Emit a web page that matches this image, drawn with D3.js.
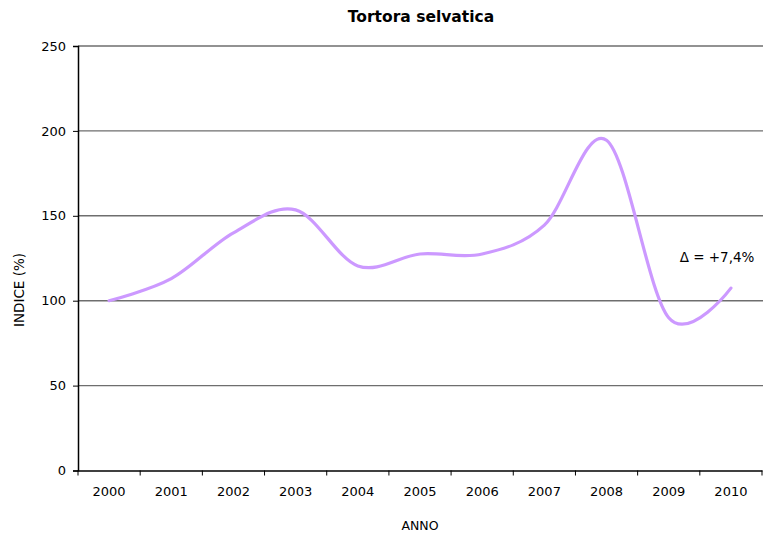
<!DOCTYPE html>
<html><head><meta charset="utf-8">
<script src="https://cdn.jsdelivr.net/npm/d3@7"></script>
<style>body{margin:0;background:#fff}svg{display:block;font-family:"DejaVu Sans",Verdana,sans-serif}</style>
</head><body>
<svg id="c" width="763" height="537"></svg>
<script>
const years = ["2000","2001","2002","2003","2004","2005","2006","2007","2008","2009","2010"];
const indice = [100, 113, 140, 153.5, 120.5, 127.5, 127.5, 144.5, 194.5, 90, 107.4];
const yTicks = [0, 50, 100, 150, 200, 250];
const title = "Tortora selvatica";
const xTitle = "ANNO";
const yTitle = "INDICE (%)";
const note = "Δ = +7,4%";

const svg = d3.select("#c");
const L = 78, R = 762, T = 46, B = 470.5;
const x = d3.scaleBand().domain(years).range([L, R]);
const y = d3.scaleLinear().domain([0, 250]).range([B, T]);

// gridlines
svg.append("g").selectAll("line").data(yTicks.filter(d => d > 0)).join("line")
  .attr("x1", L).attr("x2", 763).attr("y1", d => y(d)).attr("y2", d => y(d))
  .attr("stroke", "#6e6e6e").attr("stroke-width", 1.4);

// y axis
const ya = svg.append("g").attr("transform", `translate(${L},0)`)
  .call(d3.axisLeft(y).tickValues(yTicks).tickSize(5).tickPadding(7));
ya.select(".domain").attr("stroke", "#000").attr("stroke-width", 1.5);
ya.selectAll(".tick line").attr("stroke", "#000");
ya.selectAll("text").attr("font-size", 13).attr("fill", "#000").attr("font-family", "DejaVu Sans");

// x axis
const xa = svg.append("g").attr("transform", `translate(0,${B})`)
  .call(d3.axisBottom(x).tickSize(0).tickPadding(16));
xa.select(".domain").attr("stroke", "#000").attr("stroke-width", 1.5);
xa.selectAll("text").attr("font-size", 13).attr("fill", "#000").attr("font-family", "DejaVu Sans");
// band boundary ticks
svg.append("g").selectAll("line").data(years.concat(["end"])).join("line")
  .attr("x1", (d, i) => L + i * x.step()).attr("x2", (d, i) => L + i * x.step())
  .attr("y1", B).attr("y2", B + 5).attr("stroke", "#000").attr("stroke-width", 1);

// line
const line = d3.line().x((d, i) => x(years[i]) + x.bandwidth() / 2).y(d => y(d))
  .curve(d3.curveCatmullRom.alpha(0));
svg.append("path").datum(indice).attr("d", line)
  .attr("fill", "none").attr("stroke", "#cc99ff").attr("stroke-width", 3.2)
  .attr("stroke-linecap", "round");

// texts
svg.append("text").attr("x", 421).attr("y", 22).attr("text-anchor", "middle")
  .attr("font-size", 15.5).attr("font-weight", "bold").text(title);
svg.append("text").attr("x", 420).attr("y", 530).attr("text-anchor", "middle")
  .attr("font-size", 12.5).text(xTitle);
svg.append("text").attr("transform", "translate(24,290) rotate(-90)").attr("text-anchor", "middle")
  .attr("font-size", 13.5).text(yTitle);
svg.append("text").attr("x", 717).attr("y", 262).attr("text-anchor", "middle")
  .attr("font-size", 13.5).text(note);
</script>
</body></html>
